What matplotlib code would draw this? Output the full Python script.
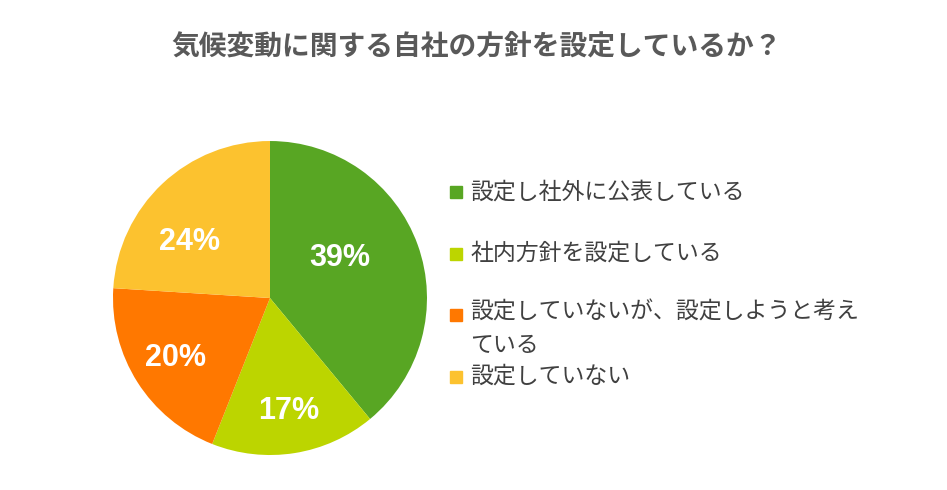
import matplotlib
matplotlib.use("Agg")
import matplotlib.pyplot as plt
from matplotlib.patches import Rectangle

plt.rcParams["font.family"] = ["Noto Sans CJK JP", "DejaVu Sans"]

title = "気候変動に関する自社の方針を設定しているか？"
categories = [
    "設定し社外に公表している",
    "社内方針を設定している",
    "設定していないが、設定しようと考え\nている",
    "設定していない",
]
shares = [39, 17, 20, 24]
colors = ["#58a623", "#bcd500", "#ff7800", "#fcc22f"]
# label spots inside each slice (pie radius units)
label_pos = [(0.446, 0.255), (0.121, -0.720), (-0.605, -0.382), (-0.510, 0.357)]

fig = plt.figure(figsize=(9.47, 4.90), dpi=100)
fig.patch.set_facecolor("white")

fig.text(0.503, 0.904, title, ha="center", va="center", fontsize=20,
         fontweight="bold", color="#595959")

ax = fig.add_axes([0.1193, 0.0714, 0.3316, 0.6408])
wedges, _ = ax.pie(shares, colors=colors, startangle=90, counterclock=False,
                   radius=1.0, wedgeprops=dict(linewidth=0))
ax.set_xlim(-1, 1)
ax.set_ylim(-1, 1)
ax.set_aspect("equal")

for val, (x, y) in zip(shares, label_pos):
    ax.text(x, y, f"{val}%", ha="center", va="center", color="white",
            fontsize=22, fontweight="bold", family="Liberation Sans")

# legend drawn by hand: fixed row pitch, long label wraps into next gap
y0, step = 192, 61.5
for i, (lab, col) in enumerate(zip(categories, colors)):
    yc = y0 + i * step
    fig.patches.append(Rectangle((450 / 947, 1 - (yc + 6) / 490), 12 / 947, 12 / 490,
                                 transform=fig.transFigure, color=col, figure=fig))
    if "\n" in lab:
        fig.text(470 / 947, 1 - (yc - 14) / 490, lab, ha="left", va="top",
                 fontsize=16.5, color="#404040", linespacing=1.55)
    else:
        fig.text(470 / 947, 1 - yc / 490, lab, ha="left", va="center",
                 fontsize=16.5, color="#404040")

fig.savefig("out.png", dpi=100)
